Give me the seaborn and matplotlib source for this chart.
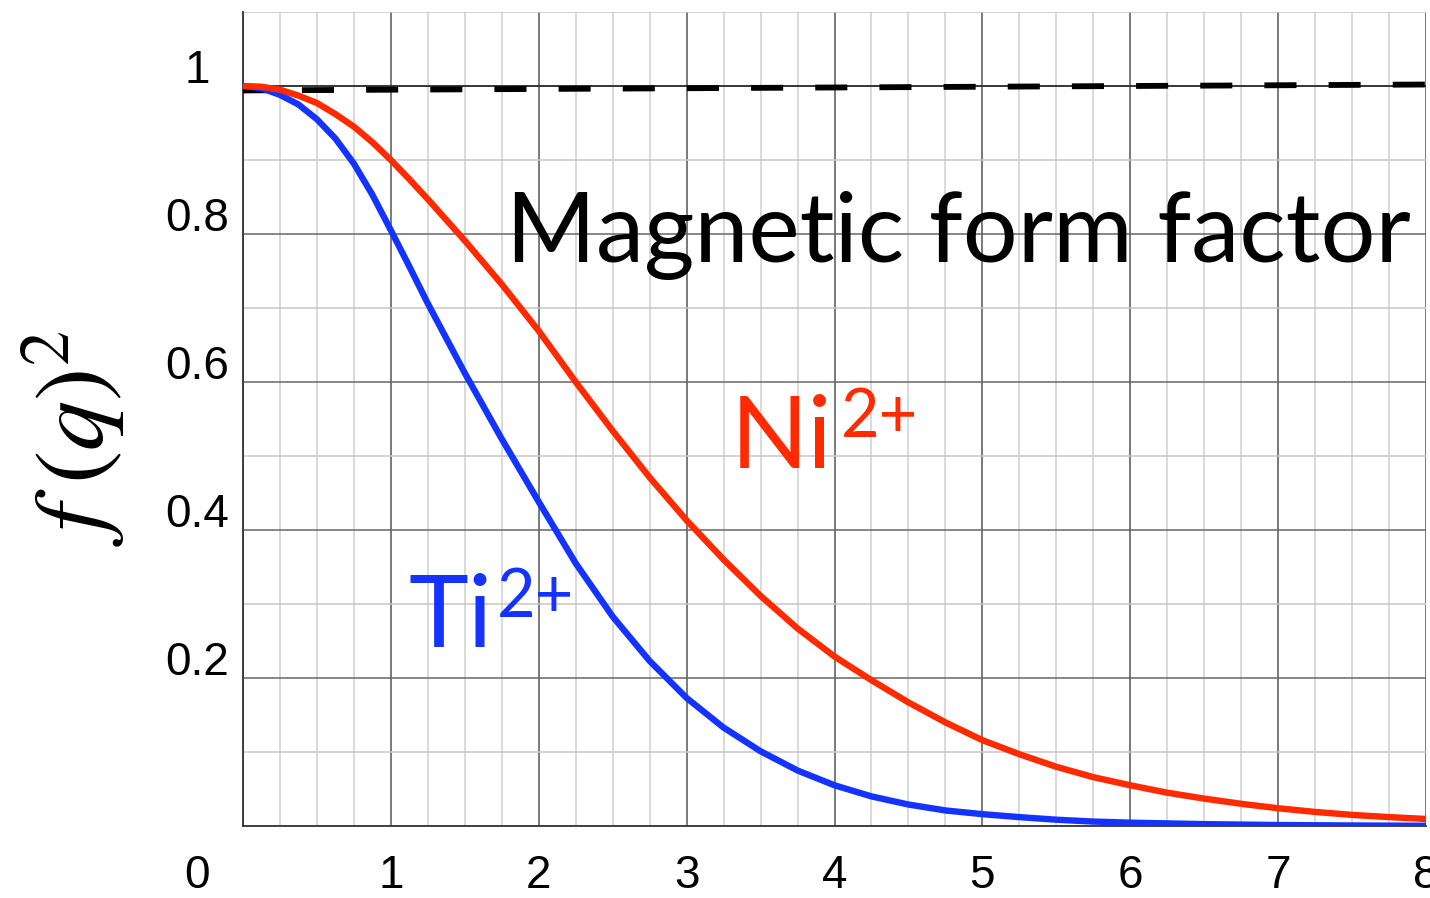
import numpy as np
import pandas as pd
import matplotlib
matplotlib.use("Agg")
import matplotlib.pyplot as plt
import seaborn as sns
from matplotlib.ticker import MultipleLocator
from matplotlib.transforms import ScaledTranslation

# ---------------- data ----------------
q_ni = [0, 0.125, 0.25, 0.375, 0.5, 0.625, 0.75, 0.875, 1.0, 1.125, 1.25,
        1.5, 1.75, 2.0, 2.25, 2.5, 2.75, 3.0, 3.25, 3.5, 3.75, 4.0, 4.25,
        4.5, 4.75, 5.0, 5.25, 5.5, 5.75, 6.0, 6.25, 6.5, 6.75, 7.0, 7.25,
        7.5, 7.75, 8.0]
f2_ni = [1.0, 0.999, 0.995, 0.987, 0.977, 0.962, 0.945, 0.924, 0.900, 0.874,
         0.847, 0.791, 0.732, 0.669, 0.600, 0.534, 0.471, 0.413, 0.360, 0.311,
         0.267, 0.229, 0.197, 0.167, 0.140, 0.116, 0.097, 0.080, 0.066, 0.055,
         0.045, 0.037, 0.030, 0.024, 0.019, 0.015, 0.012, 0.0095]

q_ti = [0, 0.125, 0.25, 0.375, 0.5, 0.625, 0.75, 0.875, 1.0, 1.125, 1.25,
        1.5, 1.75, 2.0, 2.25, 2.5, 2.75, 3.0, 3.25, 3.5, 3.75, 4.0, 4.25,
        4.5, 4.75, 5.0, 5.25, 5.5, 5.75, 6.0, 6.5, 7.0, 7.5, 8.0]
f2_ti = [1.0, 0.997, 0.988, 0.975, 0.955, 0.929, 0.895, 0.853, 0.805, 0.756,
         0.706, 0.612, 0.523, 0.438, 0.355, 0.283, 0.223, 0.173, 0.133, 0.101,
         0.075, 0.055, 0.040, 0.029, 0.021, 0.016, 0.012, 0.0085, 0.006,
         0.0045, 0.0025, 0.0013, 0.0007, 0.0003]

q_ref = [0, 8]
f2_ref = [0.994, 1.002]

x_ticks = [0, 1, 2, 3, 4, 5, 6, 7, 8]
x_labels = ["0", "1", "2", "3", "4", "5", "6", "7", "8"]
y_ticks = [0.2, 0.4, 0.6, 0.8, 1.0]
y_labels = ["0.2", "0.4", "0.6", "0.8", "1"]

ion_colors = {"Ti": "#1433ff", "Ni": "#ff2a00"}

df = pd.concat([
    pd.DataFrame({"q": q_ti, "f2": f2_ti, "ion": "Ti"}),
    pd.DataFrame({"q": q_ni, "f2": f2_ni, "ion": "Ni"}),
], ignore_index=True)

# ---------------- figure ----------------
sns.set_theme(style="white")
plt.rcParams["font.family"] = ["Liberation Sans", "DejaVu Sans"]

W, H = 1430, 898
fig = plt.figure(figsize=(W / 100, H / 100), dpi=100)
ax = fig.add_axes([243 / W, 1 - 826 / H, (1426 - 243) / W, (826 - 12) / H])

sns.lineplot(data=df, x="q", y="f2", hue="ion", hue_order=["Ti", "Ni"],
             palette=ion_colors, legend=False, ax=ax, zorder=4,
             estimator=None, sort=False)
for ln in ax.lines:
    ln.set_linewidth(4.6)
    ln.set_solid_joinstyle("round")
    ln.set_solid_capstyle("round")

ax.plot(q_ref, f2_ref, color="black", lw=4.2, linestyle=(0.9, (5.5, 5.5)),
        zorder=3, clip_on=False, dash_capstyle="butt")

ax.set_xlim(0, 8)
ax.set_ylim(0, 1.1)

ax.set_xticks(x_ticks, labels=x_labels)
ax.set_yticks(y_ticks, labels=y_labels)
ax.xaxis.set_minor_locator(MultipleLocator(0.25))
ax.yaxis.set_minor_locator(MultipleLocator(0.1))

ax.grid(which="major", axis="x", color="#555555", lw=1.1, zorder=0)
ax.grid(which="minor", axis="x", color="#cfcfcf", lw=1.1, zorder=0)
ax.grid(which="major", axis="y", color="#666666", lw=1.1, zorder=0)
ax.grid(which="minor", axis="y", color="#c6c6c6", lw=1.1, zorder=0)
ax.axhline(1.0, color="#222222", lw=1.1, zorder=1)
ax.set_axisbelow(True)

for s in ["top", "right"]:
    ax.spines[s].set_visible(False)
for s in ["left", "bottom"]:
    ax.spines[s].set_color("#333333")
    ax.spines[s].set_linewidth(1.3)

ax.tick_params(which="major", direction="in", length=3.5, width=1.2,
               color="#222222", labelsize=33, labelcolor="black")
ax.tick_params(which="minor", direction="in", length=2.2, width=1.0,
               color="#222222")
ax.tick_params(axis="x", which="major", pad=20)
ax.tick_params(axis="y", which="major", pad=33)

for lab in ax.get_yticklabels():
    lab.set_horizontalalignment("center")
    lab.set_transform(lab.get_transform() +
                      ScaledTranslation(0, 0.20, fig.dpi_scale_trans))
xl = ax.get_xticklabels()
xl[0].set_transform(xl[0].get_transform() +
                    ScaledTranslation(-0.46, 0, fig.dpi_scale_trans))

ax.set_xlabel("")
ax.set_ylabel(r"$f\;(q)^2$", fontsize=72, math_fontfamily="stix",
              va="center", color="black")
ax.yaxis.set_label_coords(-0.143, 0.477)

# ---------------- annotations ----------------
title = ax.text(1.777, 0.762, "Magnetic form factor", family="Lato",
                fontsize=72, color="black", va="baseline", ha="left", zorder=5)
ax.text(3.30, 0.484, "Ni", family="Lato", fontsize=73, color=ion_colors["Ni"],
        va="baseline", ha="left", zorder=5)
ax.text(4.04, 0.526, "2+", family="Lato", fontsize=48, color=ion_colors["Ni"],
        va="baseline", ha="left", zorder=5)
ax.text(1.12, 0.242, "Ti", family="Lato", fontsize=73, color=ion_colors["Ti"],
        va="baseline", ha="left", zorder=5)
ax.text(1.72, 0.282, "2+", family="Lato", fontsize=48, color=ion_colors["Ti"],
        va="baseline", ha="left", zorder=5)

# fit the title to the width it spans in the reference (505 -> 1410 px)
fig.canvas.draw()
r = fig.canvas.get_renderer()
w = title.get_window_extent(r).width
title.set_fontsize(72 * 905 / w)

fig.savefig("out.png", dpi=100)
